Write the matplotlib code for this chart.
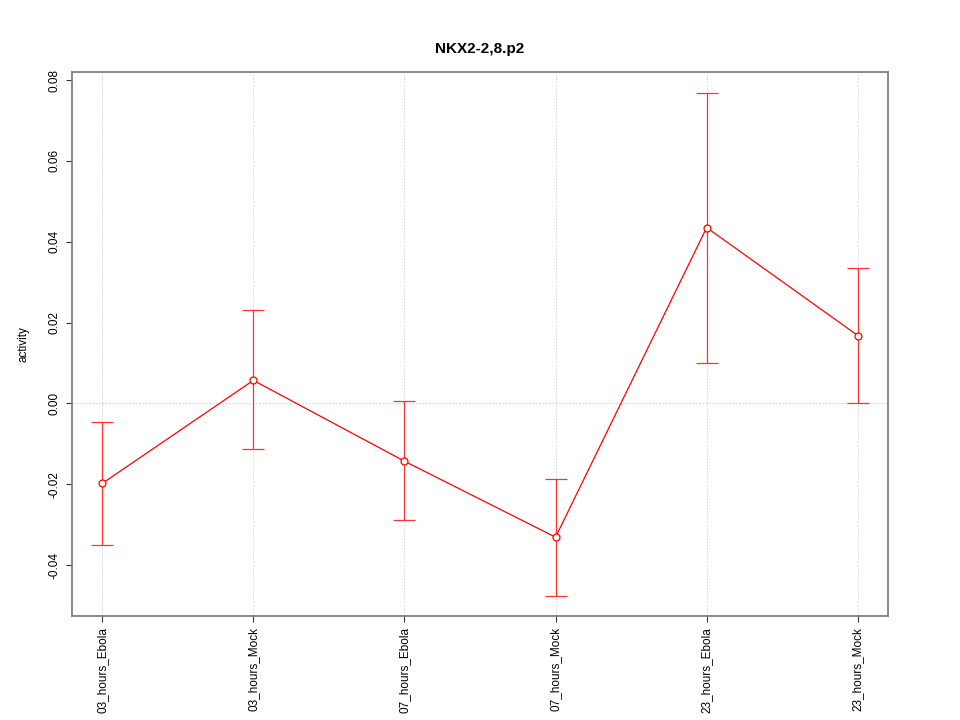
import matplotlib
matplotlib.use("Agg")
import matplotlib.pyplot as plt
import numpy as np

groups = ["03_hours_Ebola", "03_hours_Mock", "07_hours_Ebola",
          "07_hours_Mock", "23_hours_Ebola", "23_hours_Mock"]
activity = [-0.0198, 0.0057, -0.0143, -0.0331, 0.0435, 0.0168]
upper = [-0.0046, 0.0230, 0.0005, -0.0186, 0.0768, 0.0334]
lower = [-0.0350, -0.0114, -0.0289, -0.0477, 0.0100, 0.0002]
yticks = [-0.04, -0.02, 0.00, 0.02, 0.04, 0.06, 0.08]

plt.rcParams['font.family'] = ['Liberation Sans', 'DejaVu Sans']

fig = plt.figure(figsize=(9.6, 7.2), dpi=100)
ax = fig.add_axes([72/960, 1-616/720, (888-72)/960, (616-72)/720])

x = np.arange(1, len(groups)+1)
act = np.array(activity)
up = np.array(upper)
lo = np.array(lower)

# grid: vertical at each group, horizontal only at zero
for xi in x:
    ax.axvline(xi, color='#d0d0d0', linestyle=(0, (2, 2)), linewidth=0.6, zorder=1)
ax.axhline(0, color='#c8c8c8', linestyle=(0, (2, 2)), linewidth=0.6, zorder=1)

ax.errorbar(x, act, yerr=[act-lo, up-act], fmt='none', ecolor='#ff3333',
            elinewidth=0.9, capsize=8, capthick=0.9, zorder=3)
ax.plot(x, act, color='red', lw=0.9, zorder=4)
ax.plot(x, act, 'o', mfc='white', mec='red', ms=5, mew=0.9, zorder=5)

ax.set_xlim(0.8, 6.2)
ax.set_ylim(-0.0526, 0.082)
ax.set_xticks(x)
ax.set_xticklabels(groups, rotation=90, fontsize=8.5)
ax.set_yticks(yticks)
ax.set_yticklabels(["%.2f" % v for v in yticks], rotation=90, va='center', fontsize=8.5)
for s in ax.spines.values():
    s.set_color('#777777')
    s.set_linewidth(1.2)
ax.tick_params(direction='out', length=4, color='#333333', width=0.8, pad=4)
ax.set_ylabel("activity", fontsize=8.5, labelpad=14)
ax.set_title("NKX2-2,8.p2", fontsize=11, fontweight='bold', pad=14)

fig.savefig("out.png", dpi=100)
